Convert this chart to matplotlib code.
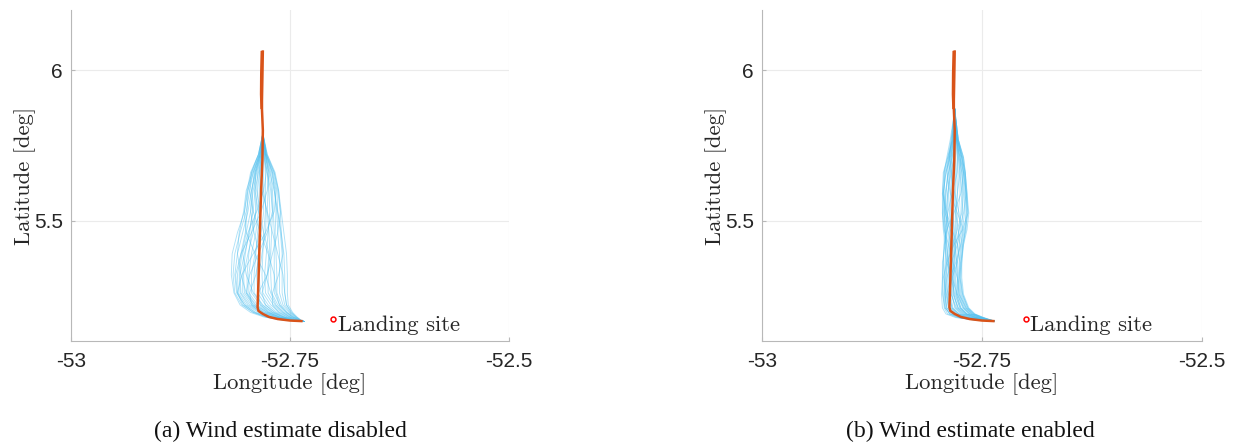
import matplotlib
matplotlib.use('Agg')
import matplotlib.pyplot as plt

# colours (MATLAB defaults)
BLUE = '#4DBEEE'
ORANGE = '#D95319'

# nominal trajectory (shared by both panels)
nominal_lat = [6.066, 5.98, 5.90, 5.87, 5.80, 5.70, 5.60, 5.50, 5.40, 5.30, 5.212,
               5.200, 5.190, 5.180, 5.173, 5.168, 5.166]
nominal_lon = [-52.781, -52.7815, -52.782, -52.782, -52.781, -52.7815, -52.783, -52.784,
               -52.785, -52.786, -52.787, -52.786, -52.781, -52.774, -52.764, -52.750, -52.7356]
# second strand of the upper (thicker) part
spiral_lat = [6.060, 5.99, 5.92, 5.875]
spiral_lon = [-52.7822, -52.7828, -52.783, -52.7825]

landing_lon = -52.7005
landing_lat = 5.172

# panel (a): wind estimate disabled
lat_a = [5.79, 5.72, 5.66, 5.60, 5.53, 5.46, 5.39, 5.32, 5.26, 5.22, 5.195, 5.18, 5.17, 5.165]
lon_a = [
    [-52.781, -52.786, -52.795, -52.799, -52.802, -52.810, -52.816, -52.817, -52.814, -52.807, -52.795, -52.780, -52.760, -52.735],
    [-52.781, -52.785, -52.792, -52.796, -52.800, -52.807, -52.813, -52.815, -52.813, -52.805, -52.792, -52.777, -52.758, -52.735],
    [-52.781, -52.784, -52.790, -52.794, -52.798, -52.804, -52.810, -52.813, -52.811, -52.802, -52.789, -52.774, -52.756, -52.734],
    [-52.781, -52.786, -52.794, -52.798, -52.799, -52.801, -52.806, -52.810, -52.809, -52.800, -52.786, -52.772, -52.755, -52.735],
    [-52.781, -52.783, -52.788, -52.792, -52.795, -52.800, -52.805, -52.808, -52.807, -52.798, -52.784, -52.770, -52.754, -52.734],
    [-52.781, -52.785, -52.791, -52.793, -52.793, -52.796, -52.802, -52.807, -52.806, -52.796, -52.782, -52.768, -52.753, -52.735],
    [-52.781, -52.782, -52.786, -52.790, -52.792, -52.797, -52.801, -52.804, -52.804, -52.794, -52.780, -52.766, -52.752, -52.734],
    [-52.781, -52.784, -52.789, -52.790, -52.789, -52.792, -52.798, -52.803, -52.802, -52.792, -52.778, -52.765, -52.751, -52.735],
    [-52.781, -52.783, -52.785, -52.787, -52.789, -52.794, -52.797, -52.799, -52.799, -52.789, -52.776, -52.763, -52.750, -52.734],
    [-52.781, -52.782, -52.784, -52.785, -52.786, -52.789, -52.794, -52.797, -52.797, -52.787, -52.774, -52.762, -52.749, -52.735],
    [-52.781, -52.783, -52.787, -52.788, -52.784, -52.785, -52.790, -52.794, -52.794, -52.784, -52.772, -52.760, -52.748, -52.734],
    [-52.781, -52.781, -52.782, -52.783, -52.784, -52.787, -52.789, -52.791, -52.791, -52.781, -52.770, -52.758, -52.747, -52.735],
    [-52.781, -52.780, -52.780, -52.781, -52.780, -52.783, -52.786, -52.788, -52.787, -52.778, -52.767, -52.757, -52.746, -52.734],
    [-52.781, -52.782, -52.783, -52.780, -52.777, -52.778, -52.782, -52.785, -52.784, -52.775, -52.765, -52.755, -52.745, -52.735],
    [-52.781, -52.779, -52.778, -52.778, -52.778, -52.780, -52.781, -52.782, -52.781, -52.772, -52.762, -52.753, -52.744, -52.734],
    [-52.781, -52.780, -52.776, -52.774, -52.773, -52.775, -52.777, -52.779, -52.778, -52.769, -52.760, -52.751, -52.743, -52.735],
    [-52.781, -52.778, -52.775, -52.775, -52.776, -52.774, -52.773, -52.775, -52.775, -52.767, -52.758, -52.750, -52.742, -52.734],
    [-52.781, -52.779, -52.774, -52.771, -52.770, -52.771, -52.772, -52.772, -52.771, -52.764, -52.756, -52.748, -52.741, -52.735],
    [-52.781, -52.778, -52.772, -52.770, -52.769, -52.768, -52.768, -52.768, -52.768, -52.762, -52.754, -52.747, -52.740, -52.734],
    [-52.781, -52.777, -52.771, -52.767, -52.766, -52.767, -52.766, -52.765, -52.765, -52.760, -52.753, -52.746, -52.740, -52.735],
    [-52.781, -52.778, -52.770, -52.768, -52.765, -52.764, -52.762, -52.762, -52.762, -52.758, -52.751, -52.745, -52.739, -52.734],
    [-52.781, -52.777, -52.769, -52.765, -52.764, -52.761, -52.759, -52.759, -52.759, -52.756, -52.750, -52.744, -52.739, -52.735],
    [-52.781, -52.776, -52.768, -52.764, -52.761, -52.760, -52.757, -52.756, -52.756, -52.754, -52.748, -52.743, -52.738, -52.734],
    [-52.781, -52.776, -52.767, -52.763, -52.760, -52.757, -52.754, -52.753, -52.753, -52.752, -52.747, -52.742, -52.738, -52.735],
    # members that cross the bundle
    [-52.781, -52.786, -52.794, -52.796, -52.792, -52.784, -52.775, -52.768, -52.766, -52.762, -52.754, -52.747, -52.740, -52.735],
    [-52.781, -52.777, -52.770, -52.766, -52.768, -52.778, -52.792, -52.805, -52.810, -52.804, -52.792, -52.778, -52.758, -52.734],
    [-52.781, -52.784, -52.792, -52.798, -52.802, -52.800, -52.790, -52.778, -52.772, -52.766, -52.758, -52.750, -52.742, -52.735],
    [-52.781, -52.778, -52.774, -52.776, -52.783, -52.794, -52.806, -52.812, -52.810, -52.802, -52.790, -52.776, -52.757, -52.735],
    [-52.781, -52.782, -52.785, -52.782, -52.776, -52.770, -52.764, -52.758, -52.756, -52.754, -52.749, -52.743, -52.738, -52.734],
    [-52.781, -52.779, -52.776, -52.772, -52.770, -52.776, -52.786, -52.796, -52.800, -52.792, -52.780, -52.766, -52.752, -52.735],
    [-52.781, -52.785, -52.793, -52.800, -52.803, -52.808, -52.810, -52.806, -52.800, -52.790, -52.776, -52.763, -52.750, -52.734],
    [-52.781, -52.777, -52.768, -52.763, -52.761, -52.764, -52.770, -52.776, -52.782, -52.778, -52.768, -52.757, -52.746, -52.735],
    [-52.781, -52.783, -52.789, -52.794, -52.795, -52.791, -52.785, -52.789, -52.796, -52.794, -52.784, -52.770, -52.754, -52.734],
    [-52.781, -52.780, -52.777, -52.780, -52.788, -52.798, -52.804, -52.800, -52.792, -52.782, -52.770, -52.758, -52.747, -52.735],
    [-52.781, -52.778, -52.773, -52.768, -52.764, -52.760, -52.758, -52.763, -52.770, -52.770, -52.763, -52.753, -52.744, -52.734],
    [-52.781, -52.784, -52.790, -52.790, -52.786, -52.780, -52.774, -52.776, -52.786, -52.784, -52.774, -52.762, -52.749, -52.735],
]

# panel (b): wind estimate enabled
lat_b = [5.87, 5.77, 5.71, 5.66, 5.59, 5.525, 5.47, 5.42, 5.36, 5.31, 5.255, 5.21, 5.19, 5.178, 5.17, 5.167]
lon_b = [
    [-52.781, -52.785, -52.789, -52.793, -52.795, -52.795, -52.793, -52.793, -52.794, -52.795, -52.796, -52.795, -52.791, -52.780, -52.760, -52.737],
    [-52.781, -52.784, -52.788, -52.792, -52.794, -52.793, -52.791, -52.792, -52.795, -52.795, -52.794, -52.793, -52.789, -52.778, -52.759, -52.736],
    [-52.781, -52.786, -52.790, -52.793, -52.793, -52.791, -52.790, -52.793, -52.794, -52.793, -52.792, -52.791, -52.787, -52.776, -52.758, -52.737],
    [-52.781, -52.783, -52.787, -52.791, -52.794, -52.795, -52.794, -52.791, -52.791, -52.792, -52.793, -52.792, -52.786, -52.775, -52.757, -52.736],
    [-52.781, -52.784, -52.787, -52.789, -52.791, -52.792, -52.792, -52.790, -52.789, -52.791, -52.792, -52.790, -52.784, -52.773, -52.756, -52.737],
    [-52.781, -52.782, -52.785, -52.788, -52.791, -52.793, -52.792, -52.791, -52.792, -52.793, -52.791, -52.788, -52.782, -52.771, -52.755, -52.736],
    [-52.781, -52.783, -52.786, -52.787, -52.788, -52.789, -52.789, -52.788, -52.790, -52.791, -52.790, -52.787, -52.780, -52.770, -52.754, -52.737],
    [-52.781, -52.782, -52.784, -52.786, -52.789, -52.790, -52.787, -52.786, -52.788, -52.789, -52.789, -52.786, -52.779, -52.768, -52.753, -52.736],
    [-52.781, -52.783, -52.785, -52.785, -52.785, -52.786, -52.786, -52.787, -52.788, -52.788, -52.787, -52.784, -52.777, -52.767, -52.752, -52.737],
    [-52.781, -52.781, -52.783, -52.784, -52.786, -52.787, -52.785, -52.784, -52.786, -52.787, -52.786, -52.783, -52.776, -52.765, -52.751, -52.736],
    [-52.781, -52.782, -52.782, -52.782, -52.783, -52.784, -52.784, -52.785, -52.786, -52.785, -52.784, -52.781, -52.774, -52.764, -52.750, -52.737],
    [-52.781, -52.780, -52.781, -52.783, -52.784, -52.783, -52.782, -52.783, -52.785, -52.786, -52.785, -52.780, -52.773, -52.762, -52.749, -52.736],
    [-52.781, -52.781, -52.780, -52.780, -52.781, -52.782, -52.783, -52.784, -52.784, -52.783, -52.782, -52.778, -52.771, -52.761, -52.748, -52.737],
    [-52.781, -52.779, -52.778, -52.779, -52.780, -52.780, -52.781, -52.782, -52.783, -52.784, -52.783, -52.777, -52.770, -52.759, -52.747, -52.736],
    [-52.781, -52.780, -52.778, -52.777, -52.778, -52.779, -52.780, -52.781, -52.782, -52.782, -52.780, -52.775, -52.768, -52.758, -52.746, -52.737],
    [-52.781, -52.779, -52.777, -52.775, -52.775, -52.777, -52.779, -52.780, -52.781, -52.781, -52.779, -52.774, -52.767, -52.756, -52.745, -52.736],
    [-52.781, -52.778, -52.776, -52.775, -52.773, -52.774, -52.776, -52.778, -52.779, -52.780, -52.778, -52.772, -52.765, -52.755, -52.744, -52.737],
    [-52.781, -52.779, -52.775, -52.773, -52.772, -52.772, -52.773, -52.776, -52.778, -52.778, -52.777, -52.771, -52.764, -52.753, -52.743, -52.736],
    [-52.781, -52.778, -52.774, -52.772, -52.770, -52.770, -52.772, -52.774, -52.776, -52.777, -52.775, -52.769, -52.762, -52.752, -52.743, -52.737],
    [-52.781, -52.777, -52.773, -52.771, -52.769, -52.768, -52.770, -52.773, -52.775, -52.776, -52.774, -52.768, -52.761, -52.751, -52.742, -52.736],
    [-52.781, -52.778, -52.772, -52.770, -52.768, -52.767, -52.768, -52.772, -52.774, -52.775, -52.773, -52.767, -52.760, -52.750, -52.741, -52.737],
    [-52.781, -52.777, -52.771, -52.769, -52.767, -52.765, -52.767, -52.771, -52.773, -52.774, -52.772, -52.766, -52.759, -52.749, -52.741, -52.736],
    [-52.781, -52.778, -52.773, -52.769, -52.767, -52.766, -52.769, -52.772, -52.773, -52.773, -52.771, -52.765, -52.758, -52.748, -52.740, -52.737],
    [-52.781, -52.777, -52.772, -52.770, -52.768, -52.768, -52.769, -52.771, -52.774, -52.775, -52.772, -52.766, -52.759, -52.749, -52.740, -52.736],
    # members that cross the bundle
    [-52.781, -52.784, -52.788, -52.790, -52.786, -52.778, -52.771, -52.774, -52.780, -52.786, -52.790, -52.788, -52.782, -52.771, -52.755, -52.736],
    [-52.781, -52.778, -52.773, -52.771, -52.774, -52.782, -52.790, -52.792, -52.790, -52.784, -52.778, -52.771, -52.764, -52.753, -52.743, -52.737],
    [-52.781, -52.783, -52.789, -52.794, -52.795, -52.790, -52.784, -52.778, -52.775, -52.776, -52.779, -52.774, -52.767, -52.756, -52.745, -52.736],
    [-52.781, -52.779, -52.775, -52.771, -52.768, -52.766, -52.772, -52.782, -52.790, -52.794, -52.795, -52.792, -52.786, -52.775, -52.757, -52.737],
    [-52.781, -52.780, -52.784, -52.788, -52.792, -52.794, -52.793, -52.788, -52.783, -52.778, -52.776, -52.770, -52.763, -52.752, -52.742, -52.736],
    [-52.781, -52.778, -52.774, -52.775, -52.778, -52.780, -52.777, -52.775, -52.778, -52.784, -52.788, -52.784, -52.776, -52.765, -52.750, -52.737],
    [-52.781, -52.785, -52.787, -52.785, -52.781, -52.776, -52.774, -52.778, -52.785, -52.790, -52.792, -52.790, -52.783, -52.772, -52.754, -52.736],
    [-52.781, -52.779, -52.777, -52.778, -52.784, -52.789, -52.791, -52.790, -52.788, -52.785, -52.781, -52.775, -52.768, -52.757, -52.745, -52.737],
    [-52.781, -52.782, -52.786, -52.791, -52.794, -52.792, -52.786, -52.781, -52.779, -52.778, -52.776, -52.768, -52.761, -52.750, -52.741, -52.736],
    [-52.781, -52.777, -52.771, -52.769, -52.768, -52.771, -52.776, -52.780, -52.782, -52.783, -52.782, -52.777, -52.769, -52.758, -52.746, -52.737],
    [-52.781, -52.781, -52.782, -52.785, -52.789, -52.791, -52.789, -52.785, -52.784, -52.786, -52.788, -52.785, -52.778, -52.767, -52.752, -52.736],
    [-52.781, -52.779, -52.776, -52.773, -52.771, -52.773, -52.778, -52.783, -52.786, -52.787, -52.785, -52.779, -52.772, -52.761, -52.747, -52.737],
]

x_ticks = [-53, -52.75, -52.5]
x_tick_labels = ['-53', '-52.75', '-52.5']
y_ticks = [5.5, 6]
y_tick_labels = ['5.5', '6']
captions = ['(a) Wind estimate disabled', '(b) Wind estimate enabled']

LABEL_FONT = 'cmr10'
TEXT_COLOR = '#262626'
AXIS_GREY = '#b8b8b8'


def draw_panel(ax, lats, members):
    for lons in members:
        ax.plot(lons, lats, color=BLUE, lw=0.65, alpha=0.45)
    ax.plot(nominal_lon, nominal_lat, color=ORANGE, lw=1.8, solid_capstyle='butt')
    ax.plot(spiral_lon, spiral_lat, color=ORANGE, lw=1.8)
    ax.plot(landing_lon, landing_lat, 'o', mfc='none', mec='red', ms=3.5, mew=1.1)
    ax.annotate('Landing site', (landing_lon, landing_lat), xytext=(3.5, -4.5),
                textcoords='offset points', ha='left', va='center',
                fontfamily=LABEL_FONT, fontsize=16.3, color=TEXT_COLOR)

    ax.set_xlim(-53, -52.5)
    ax.set_ylim(5.1, 6.2)
    ax.set_xticks(x_ticks, x_tick_labels)
    ax.set_yticks(y_ticks, y_tick_labels)
    ax.grid(True, color='#ebebeb', lw=0.8)
    ax.set_axisbelow(True)

    for s in ['top', 'right']:
        ax.spines[s].set_visible(False)
    for s in ['left', 'bottom']:
        ax.spines[s].set_color(AXIS_GREY)
        ax.spines[s].set_linewidth(0.8)

    ax.tick_params(direction='in', length=3, color=AXIS_GREY, labelcolor=TEXT_COLOR,
                   labelsize=15)
    ax.tick_params(axis='x', pad=8)
    ax.tick_params(axis='y', pad=6)
    for lab in ax.get_xticklabels() + ax.get_yticklabels():
        lab.set_fontfamily('Liberation Sans')

    ax.set_xlabel('Longitude [deg]', fontfamily=LABEL_FONT, fontsize=16.3,
                  color=TEXT_COLOR, labelpad=1.5)
    ax.set_ylabel('Latitude [deg]', fontfamily=LABEL_FONT, fontsize=16.3,
                  color=TEXT_COLOR, labelpad=-1.5)


fig = plt.figure(figsize=(12.35, 4.48), dpi=100)
ax1 = fig.add_axes([71 / 1235, 107 / 448, 438 / 1235, 331 / 448])
ax2 = fig.add_axes([762 / 1235, 107 / 448, 440 / 1235, 331 / 448])

draw_panel(ax1, lat_a, lon_a)
draw_panel(ax2, lat_b, lon_b)

fig.text(280 / 1235, 1 - 431 / 448, captions[0], ha='center', va='center',
         fontfamily='Liberation Serif', fontsize=17, color='#111111')
fig.text(970 / 1235, 1 - 431 / 448, captions[1], ha='center', va='center',
         fontfamily='Liberation Serif', fontsize=17, color='#111111')

fig.savefig('out.png', dpi=100)
